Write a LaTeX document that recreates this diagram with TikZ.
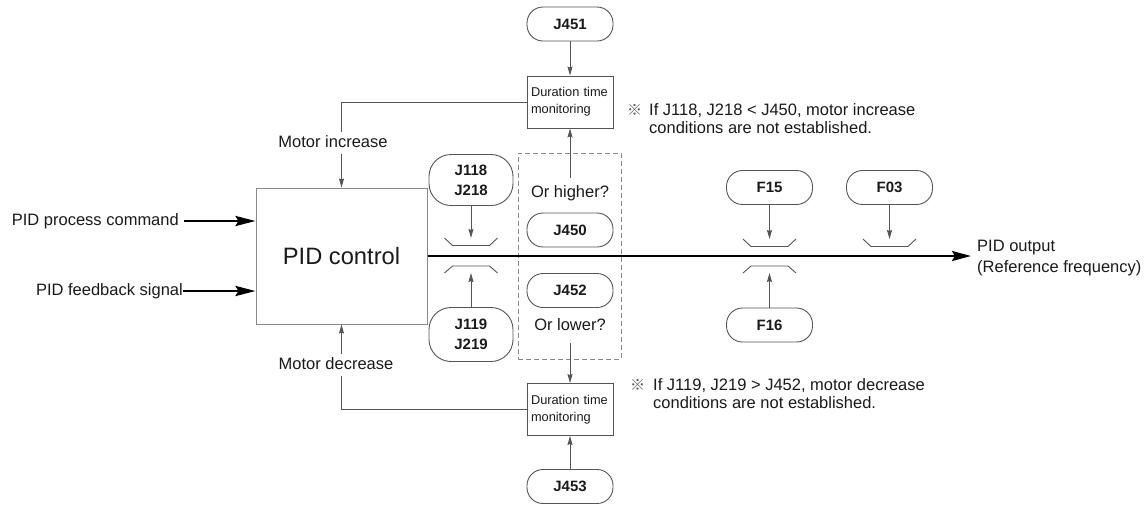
\documentclass[tikz,border=0pt]{standalone}
\usepackage{fontspec}
\setmainfont{Liberation Sans}
\newfontfamily\cjk{Noto Sans CJK JP}
\usetikzlibrary{arrows.meta,calc}
\definecolor{linec}{HTML}{555555}
\definecolor{boxc}{HTML}{8A8A8A}
\definecolor{txt}{HTML}{1A1A1A}
\begin{document}
\begin{tikzpicture}[x=1pt,y=-1pt,
  lbl/.style={font=\fontsize{16.5}{18}\selectfont, text=txt, inner sep=0pt},
  term/.style={draw=linec, line width=0.9pt, rounded corners=16pt, minimum width=86pt, minimum height=34pt, inner sep=0pt, align=center, font=\bfseries\fontsize{15}{20}\selectfont, text=txt},
  dur/.style={draw=linec, line width=0.9pt, minimum width=86pt, minimum height=52pt, inner sep=0pt, text width=78pt, align=left, font=\fontsize{12.8}{17}\selectfont, text=txt},
  thin/.style={draw=linec, line width=0.9pt},
  thinarrow/.style={thin, -{Stealth[length=9pt,width=5pt,inset=1pt]}},
  inarrow/.style={draw=black, line width=2.8pt, -{Stealth[length=20pt,width=10pt,inset=3pt]}},
  thickarrow/.style={draw=black, line width=2.6pt, -{Stealth[length=19pt,width=10pt,inset=3pt]}},
  switch/.style={draw=linec, line width=0.9pt}
]
\path[use as bounding box] (0,0) rectangle (1147,504);

% PID block and inputs
\node[draw=boxc, line width=1pt, minimum width=171pt, minimum height=136pt, inner sep=0pt, font=\fontsize{23.7}{26}\selectfont, text=txt] (pid) at (341.5,256) {PID control};
\node[lbl, anchor=east, text height=12pt, text depth=3.5pt] (pc) at (179,221) {PID process command};
\draw[inarrow] ([xshift=5pt]pc.east) -- (pc.east -| pid.west);
\node[lbl, anchor=east, text height=12pt, text depth=3.5pt] (fb) at (183,291) {PID feedback signal};
\draw[inarrow] (fb.east) -- (fb.east -| pid.west);

% motor increase / decrease
\node[lbl, inner ysep=3.5pt, text height=12pt, text depth=3.5pt] (mi) at (333,143) {Motor increase};
\node[lbl, inner ysep=3.5pt, text height=12pt, text depth=3.5pt] (md) at (336,365) {Motor decrease};
\node[dur] (dt1) at (570,102) {Duration time\\monitoring};
\node[dur] (dt2) at (570,409.5) {Duration time\\monitoring};
\draw[thin] (dt1.west) -| (pid.north |- mi.north);
\draw[thinarrow] (pid.north |- mi.south) -- (pid.north);
\draw[thinarrow] (pid.south |- md.north) -- (pid.south);
\draw[thin] (dt2.west) -| (pid.south |- md.south);

\node[term] (J451) at (570,24) {J451};
\node[term] (J453) at (570,486.5) {J453};
\draw[thinarrow] (J451) -- (dt1);
\draw[thinarrow] (J453) -- (dt2);

% dashed comparison box
\node[draw=boxc, line width=0.9pt, dash pattern=on 5pt off 3pt, minimum width=103pt, minimum height=206pt, inner sep=0pt] (dbox) at (569.5,256) {};
\node[lbl, inner ysep=7pt, text height=12pt, text depth=3.5pt] (oh) at (570,193) {Or higher?};
\node[term] (J450) at (570,230) {J450};
\node[term] (J452) at (570,290.5) {J452};
\node[lbl, inner ysep=9pt, text height=12pt, text depth=3.5pt] (ol) at (570,326) {Or lower?};
\draw[thinarrow] (oh.north) -- (dt1.south);
\draw[thinarrow] (ol.south) -- (dt2.north);

% J118 / J119
\node[term, minimum width=84pt, minimum height=51pt, rounded corners=22pt] (J118) at (471,180) {J118\\J218};
\node[term, minimum width=84pt, minimum height=54pt, rounded corners=22pt] (J119) at (471,334.5) {J119\\J219};
\coordinate (s1) at (471,238);
\coordinate (s2) at (471,273);
\draw[thinarrow] (J118.south) -- (J118.south |- s1);
\draw[thinarrow] (J119.north) -- (J119.north |- s2);
\draw[switch] ($(s1)+(-26.5,0)$) -- ++(8,7.5) -- ++(37,0) -- ++(8,-7.5);
\draw[switch] ($(s2)+(-26.5,0)$) -- ++(8,-7) -- ++(37,0) -- ++(8,7);

% F15 / F16 / F03
\node[term] (F15) at (769.5,187.5) {F15};
\node[term] (F03) at (889.5,187.5) {F03};
\node[term] (F16) at (769.5,325) {F16};
\coordinate (s3) at (769.5,239);
\coordinate (s4) at (769.5,273);
\coordinate (s5) at (889.5,239);
\draw[thinarrow] (F15.south) -- (F15.south |- s3);
\draw[thinarrow] (F16.north) -- (F16.north |- s4);
\draw[thinarrow] (F03.south) -- (F03.south |- s5);
\draw[switch] ($(s3)+(-26.5,0)$) -- ++(8,7.5) -- ++(37,0) -- ++(8,-7.5);
\draw[switch] ($(s4)+(-26.5,0)$) -- ++(8,-7) -- ++(37,0) -- ++(8,7);
\draw[switch] ($(s5)+(-26.5,0)$) -- ++(8,7.5) -- ++(37,0) -- ++(8,-7.5);

% output
\node[lbl, anchor=west, align=left, font=\fontsize{16.5}{21}\selectfont] (out) at (977,258) {PID output\\(Reference frequency)};
\draw[thickarrow] (pid.east) -- ([xshift=-6pt]pid.east -| out.west);

% notes
\node[lbl, anchor=west, align=left] (n1) at (627,119) {\makebox[22pt][l]{\color{linec}\cjk\fontsize{15}{18}\selectfont ※}If J118, J218 < J450, motor increase\\\hspace*{22pt}conditions are not established.};
\node[lbl, anchor=west, align=left] (n2) at (630,394) {\makebox[23pt][l]{\color{linec}\cjk\fontsize{15}{18}\selectfont ※}If J119, J219 > J452, motor decrease\\\hspace*{23pt}conditions are not established.};
\end{tikzpicture}
\end{document}
